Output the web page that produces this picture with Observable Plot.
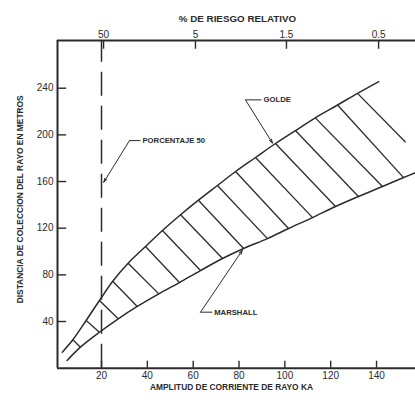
<!DOCTYPE html>
<html>
<head>
<meta charset="utf-8">
<script src="https://cdn.jsdelivr.net/npm/d3@7"></script>
<script src="https://cdn.jsdelivr.net/npm/@observablehq/plot@0.6"></script>
<style>
  html, body { margin: 0; padding: 0; background: #fff; }
  #chart svg { display: block; }
</style>
</head>
<body>
<div id="chart"></div>
<script>
// Axis ticks
const amplitudeTicks = [20, 40, 60, 80, 100, 120, 140];
const distanceTicks = [40, 80, 120, 160, 200, 240];
const riskLabels = ["50", "5", "1.5", "0.5"];
const riskAmplitude = [20.9, 61, 100.7, 140.9];

// Golde curve (upper)
const goldeX = [2.9, 7.5, 13.3, 19.1, 24.9, 31.6, 39.2, 46.6, 54.5, 62.3, 70.6, 78.5, 87.2, 95.9, 104.6, 113.3, 123.0, 131.7, 141.0];
const goldeY = [13.7, 24.3, 40.9, 58.0, 74.5, 90.0, 104.3, 118.0, 131.5, 144.0, 156.6, 168.6, 180.6, 192.6, 203.7, 214.6, 225.6, 235.6, 245.7];

// Marshall curve (lower)
const marshallX = [5.0, 10.8, 19.1, 27.3, 35.6, 45.0, 54.0, 63.2, 72.8, 82.0, 92.4, 101.6, 112.1, 122.1, 132.1, 142.6, 151.8, 157.5];
const marshallY = [6.6, 18.0, 30.8, 42.3, 52.9, 63.7, 73.4, 83.7, 94.0, 102.6, 111.1, 119.7, 129.1, 138.6, 147.2, 155.7, 163.4, 168.0];

// Hatch segments between the curves
const hatchX1 = [7.5, 13.3, 19.1, 24.9, 31.6, 39.2, 46.6, 54.5, 62.3, 70.6, 78.5, 87.2, 95.9, 104.6, 113.3, 123.0, 131.7];
const hatchY1 = [24.3, 40.9, 58.0, 74.5, 90.0, 104.3, 118.0, 131.5, 144.0, 156.6, 168.6, 180.6, 192.6, 203.7, 214.6, 225.6, 235.6];
const hatchX2 = [10.8, 19.1, 27.3, 35.6, 45.0, 54.0, 63.2, 72.8, 82.0, 92.4, 101.6, 112.1, 122.1, 132.1, 142.6, 151.8, 152.7];
const hatchY2 = [18.0, 30.8, 42.3, 52.9, 63.7, 73.4, 83.7, 94.0, 102.6, 111.1, 119.7, 129.1, 138.6, 147.2, 155.7, 163.4, 193.7];

// Reference line (50 %)
const percent50Amplitude = [20];

// Annotations
const annLabels = ["PORCENTAJE 50", "GOLDE", "MARSHALL"];
const annTextX = [37.0, 89.8, 68.3];
const annTextY = [195.1, 230.0, 48.0];
const annElbowX = [32.2, 82.8, 63.2];
const annElbowY = [195.1, 230.0, 48.0];
const annTipX = [21.0, 94.6, 81.4];
const annTipY = [159.4, 193.0, 100.9];

// Texts
const topTitle = "% DE RIESGO RELATIVO";
const xTitle = "AMPLITUD DE CORRIENTE DE RAYO KA";
const yTitle = "DISTANCIA DE COLECCION DEL RAYO EN METROS";

const xMin = 0.8, xMax = 157, yMax = 280.9;

const golde = goldeX.map((x, i) => ({x, y: goldeY[i]}));
const marshall = marshallX.map((x, i) => ({x, y: marshallY[i]}));
const hatches = hatchX1.map((x1, i) => ({x1, y1: hatchY1[i], x2: hatchX2[i], y2: hatchY2[i]}));
const anns = annLabels.map((label, i) => ({
  label, tx: annTextX[i], ty: annTextY[i], ex: annElbowX[i], ey: annElbowY[i], px: annTipX[i], py: annTipY[i]
}));

const ink = "#2b2b2b";
const font = "'Liberation Sans', Arial, sans-serif";

const chart = Plot.plot({
  width: 415,
  height: 404,
  marginLeft: 57,
  marginRight: 0,
  marginTop: 40,
  marginBottom: 36.33,
  style: {fontFamily: font, color: ink, background: "#fff"},
  x: {domain: [xMin, xMax], axis: null},
  y: {domain: [0, yMax], axis: null},
  marks: [
    // frame lines
    Plot.ruleX([xMin], {stroke: ink, strokeWidth: 2}),
    Plot.ruleY([0], {stroke: ink, strokeWidth: 2}),
    Plot.ruleY([yMax], {stroke: ink, strokeWidth: 2}),
    // inward ticks
    Plot.ruleY(distanceTicks, {y: d => d, x1: xMin, x2: xMin + 4, stroke: ink, strokeWidth: 1.4}),
    Plot.ruleX(amplitudeTicks, {x: d => d, y1: 0, y2: 6, stroke: ink, strokeWidth: 1.4}),
    Plot.ruleX(riskAmplitude, {x: d => d, y1: yMax, y2: yMax - 7.5, stroke: ink, strokeWidth: 1.4}),
    // tick labels
    Plot.text(distanceTicks, {x: xMin, y: d => d, dx: -4, textAnchor: "end", fontSize: 10, fill: ink, text: d => String(d)}),
    Plot.text(amplitudeTicks, {x: d => d, y: 0, dy: 4, lineAnchor: "top", fontSize: 10, fill: ink, text: d => String(d)}),
    Plot.text(riskLabels, {x: (d, i) => riskAmplitude[i], y: yMax, dy: -3, lineAnchor: "bottom", fontSize: 10, fill: ink, text: d => d}),
    // titles
    Plot.text([topTitle], {frameAnchor: "top", dx: 1, dy: -25, fontSize: 9.8, fontWeight: "bold", fill: ink, text: d => d}),
    Plot.text([xTitle], {frameAnchor: "bottom", dx: -5, dy: 22, fontSize: 8.4, fontWeight: "bold", fill: ink, text: d => d}),
    Plot.text([yTitle], {frameAnchor: "left", textAnchor: "middle", dx: -37, dy: -5, rotate: -90, fontSize: 8.4, fontWeight: "bold", fill: ink, text: d => d}),
    // dashed 50% line
    Plot.ruleX(percent50Amplitude, {x: d => d, y1: 0, y2: yMax, stroke: ink, strokeWidth: 1.5, strokeDasharray: "24,10"}),
    // hatches
    Plot.link(hatches, {x1: "x1", y1: "y1", x2: "x2", y2: "y2", stroke: ink, strokeWidth: 1.3}),
    // curves
    Plot.line(golde, {x: "x", y: "y", curve: "catmull-rom", stroke: ink, strokeWidth: 1.5}),
    Plot.line(marshall, {x: "x", y: "y", curve: "catmull-rom", stroke: ink, strokeWidth: 1.5}),
    // annotations
    Plot.link(anns, {x1: "ex", y1: "ey", x2: "tx", y2: "ty", stroke: ink, strokeWidth: 1}),
    Plot.arrow(anns, {x1: "ex", y1: "ey", x2: "px", y2: "py", stroke: ink, strokeWidth: 1, headLength: 6, headAngle: 35}),
    Plot.text(anns, {x: "tx", y: "ty", dx: 2, textAnchor: "start", fontSize: 7.7, fontWeight: "bold", fill: ink, text: "label"})
  ]
});
document.getElementById("chart").appendChild(chart);
</script>
</body>
</html>
